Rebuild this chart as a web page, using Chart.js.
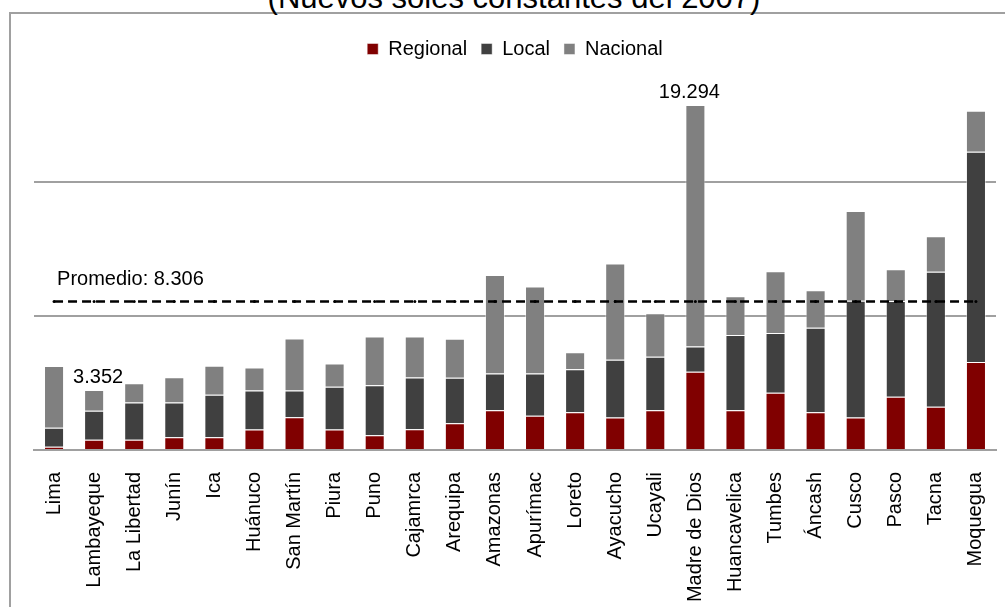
<!DOCTYPE html>
<html>
<head>
<meta charset="utf-8">
<script src="https://cdn.jsdelivr.net/npm/chart.js@4"></script>
<style>
  html, body { margin: 0; padding: 0; background: #fff; overflow: hidden; }
  body { width: 1005px; height: 607px; position: relative; }
  #frame { position: absolute; left: 9px; top: 12px; width: 1100px; height: 700px;
           border: 2px solid #a0a0a0; box-sizing: border-box; }
  #title { position: absolute; left: 0; top: -18px; width: 1028px; text-align: center;
           font: 31px/31px "Liberation Sans", Arial, sans-serif; color: #000; white-space: nowrap; }
  #wrap { position: absolute; left: 0; top: 0; width: 1005px; height: 607px; }
</style>
</head>
<body>
<div id="frame"></div>
<div id="title">(Nuevos soles constantes del 2007)</div>
<div id="wrap"><canvas id="chart"></canvas></div>
<script>
// regions, sorted as in the source chart
var categories = ['Lima', 'Lambayeque', 'La Libertad', 'Junín', 'Ica', 'Huánuco', 'San Martín', 'Piura',
  'Puno', 'Cajamrca', 'Arequipa', 'Amazonas', 'Apurímac', 'Loreto', 'Ayacucho', 'Ucayali',
  'Madre de Dios', 'Huancavelica', 'Tumbes', 'Áncash', 'Cusco', 'Pasco', 'Tacna', 'Moquegua'];

var regional = [0.18, 0.58, 0.58, 0.71, 0.71, 1.14, 1.83, 1.14, 0.82, 1.16, 1.49, 2.22,
  1.92, 2.11, 1.81, 2.22, 4.38, 2.22, 3.20, 2.11, 1.81, 2.98, 2.42, 4.92];
var local = [1.06, 1.62, 2.07, 1.94, 2.38, 2.18, 1.49, 2.39, 2.80, 2.89, 2.55, 2.05,
  2.35, 2.40, 3.24, 3.00, 1.40, 4.21, 3.34, 4.73, 6.53, 5.35, 7.55, 11.76];
var nacional = [3.46, 1.152, 1.08, 1.42, 1.62, 1.29, 2.91, 1.30, 2.72, 2.29, 2.18, 5.52,
  4.87, 0.95, 5.37, 2.43, 13.514, 2.16, 3.45, 2.09, 5.02, 1.77, 1.98, 2.28];

var promedio = 8.306;
var gridTicks = [0, 7.5, 15];
var labelled = ['Lambayeque', 'Madre de Dios'];

var font = '"Liberation Sans", Arial, sans-serif';

// totals above two bars and the average caption
var notes = {
  id: 'notes',
  afterDatasetsDraw: function(chart) {
    var ctx = chart.ctx, xs = chart.scales.x, ys = chart.scales.y;
    var nudge = { 'Lambayeque': 4, 'Madre de Dios': -6 };
    ctx.save();
    ctx.font = '20px ' + font;
    ctx.fillStyle = '#000';
    ctx.textAlign = 'center';
    ctx.textBaseline = 'alphabetic';
    labelled.forEach(function(name) {
      var i = categories.indexOf(name);
      var total = regional[i] + local[i] + nacional[i];
      ctx.fillText(total.toFixed(3), xs.getPixelForValue(i) + nudge[name], ys.getPixelForValue(total) - 7);
    });
    ctx.textAlign = 'left';
    ctx.fillText('Promedio: ' + promedio.toFixed(3), xs.getPixelForValue(0) + 3, ys.getPixelForValue(promedio) - 16);
    ctx.restore();
  }
};

var edge = 'rgba(255,255,255,0.45)';

new Chart(document.getElementById('chart'), {
  type: 'bar',
  data: {
    labels: categories,
    datasets: [
      { label: 'Regional', data: regional, backgroundColor: '#800000', borderColor: edge, borderWidth: 1, stack: 'g', order: 1 },
      { label: 'Local', data: local, backgroundColor: '#404040', borderColor: edge, borderWidth: 1, stack: 'g', order: 1 },
      { label: 'Nacional', data: nacional, backgroundColor: '#808080', borderColor: edge, borderWidth: 1, stack: 'g', order: 1 },
      { type: 'line', label: 'Promedio', data: categories.map(function() { return promedio; }),
        stack: 'avg', order: 0, borderColor: '#000', borderWidth: 2.5, borderDash: [9, 5],
        pointRadius: 1.5, pointBackgroundColor: '#000', pointBorderWidth: 0, fill: false }
    ]
  },
  options: {
    responsive: true,
    maintainAspectRatio: false,
    animation: false,
    layout: { padding: { left: 34, right: 9, top: 25, bottom: 0 } },
    datasets: { bar: { barPercentage: 0.5, categoryPercentage: 1 } },
    plugins: {
      tooltip: { enabled: false },
      legend: {
        position: 'top',
        labels: {
          boxWidth: 11, boxHeight: 11, padding: 14, color: '#000',
          font: { family: font, size: 20 },
          filter: function(item) { return item.datasetIndex < 3; }
        }
      }
    },
    scales: {
      x: {
        stacked: true,
        grid: { display: false },
        border: { color: '#a0a0a0', width: 2 },
        ticks: { autoSkip: false, minRotation: 90, maxRotation: 90, padding: 14, color: '#000',
                 font: { family: font, size: 20 } },
        afterFit: function(scale) { scale.height = 157; scale.paddingLeft = 0; scale.paddingRight = 0; }
      },
      y: {
        stacked: true,
        min: 0,
        max: 21.3,
        border: { display: false },
        grid: { drawTicks: false, lineWidth: 2,
                color: function(c) { return c.tick && c.tick.value > 0 ? '#a0a0a0' : 'rgba(0,0,0,0)'; } },
        ticks: { display: false },
        afterBuildTicks: function(scale) { scale.ticks = gridTicks.map(function(v) { return { value: v }; }); },
        afterFit: function(scale) { scale.width = 0; }
      }
    }
  },
  plugins: [notes]
});
</script>
</body>
</html>
